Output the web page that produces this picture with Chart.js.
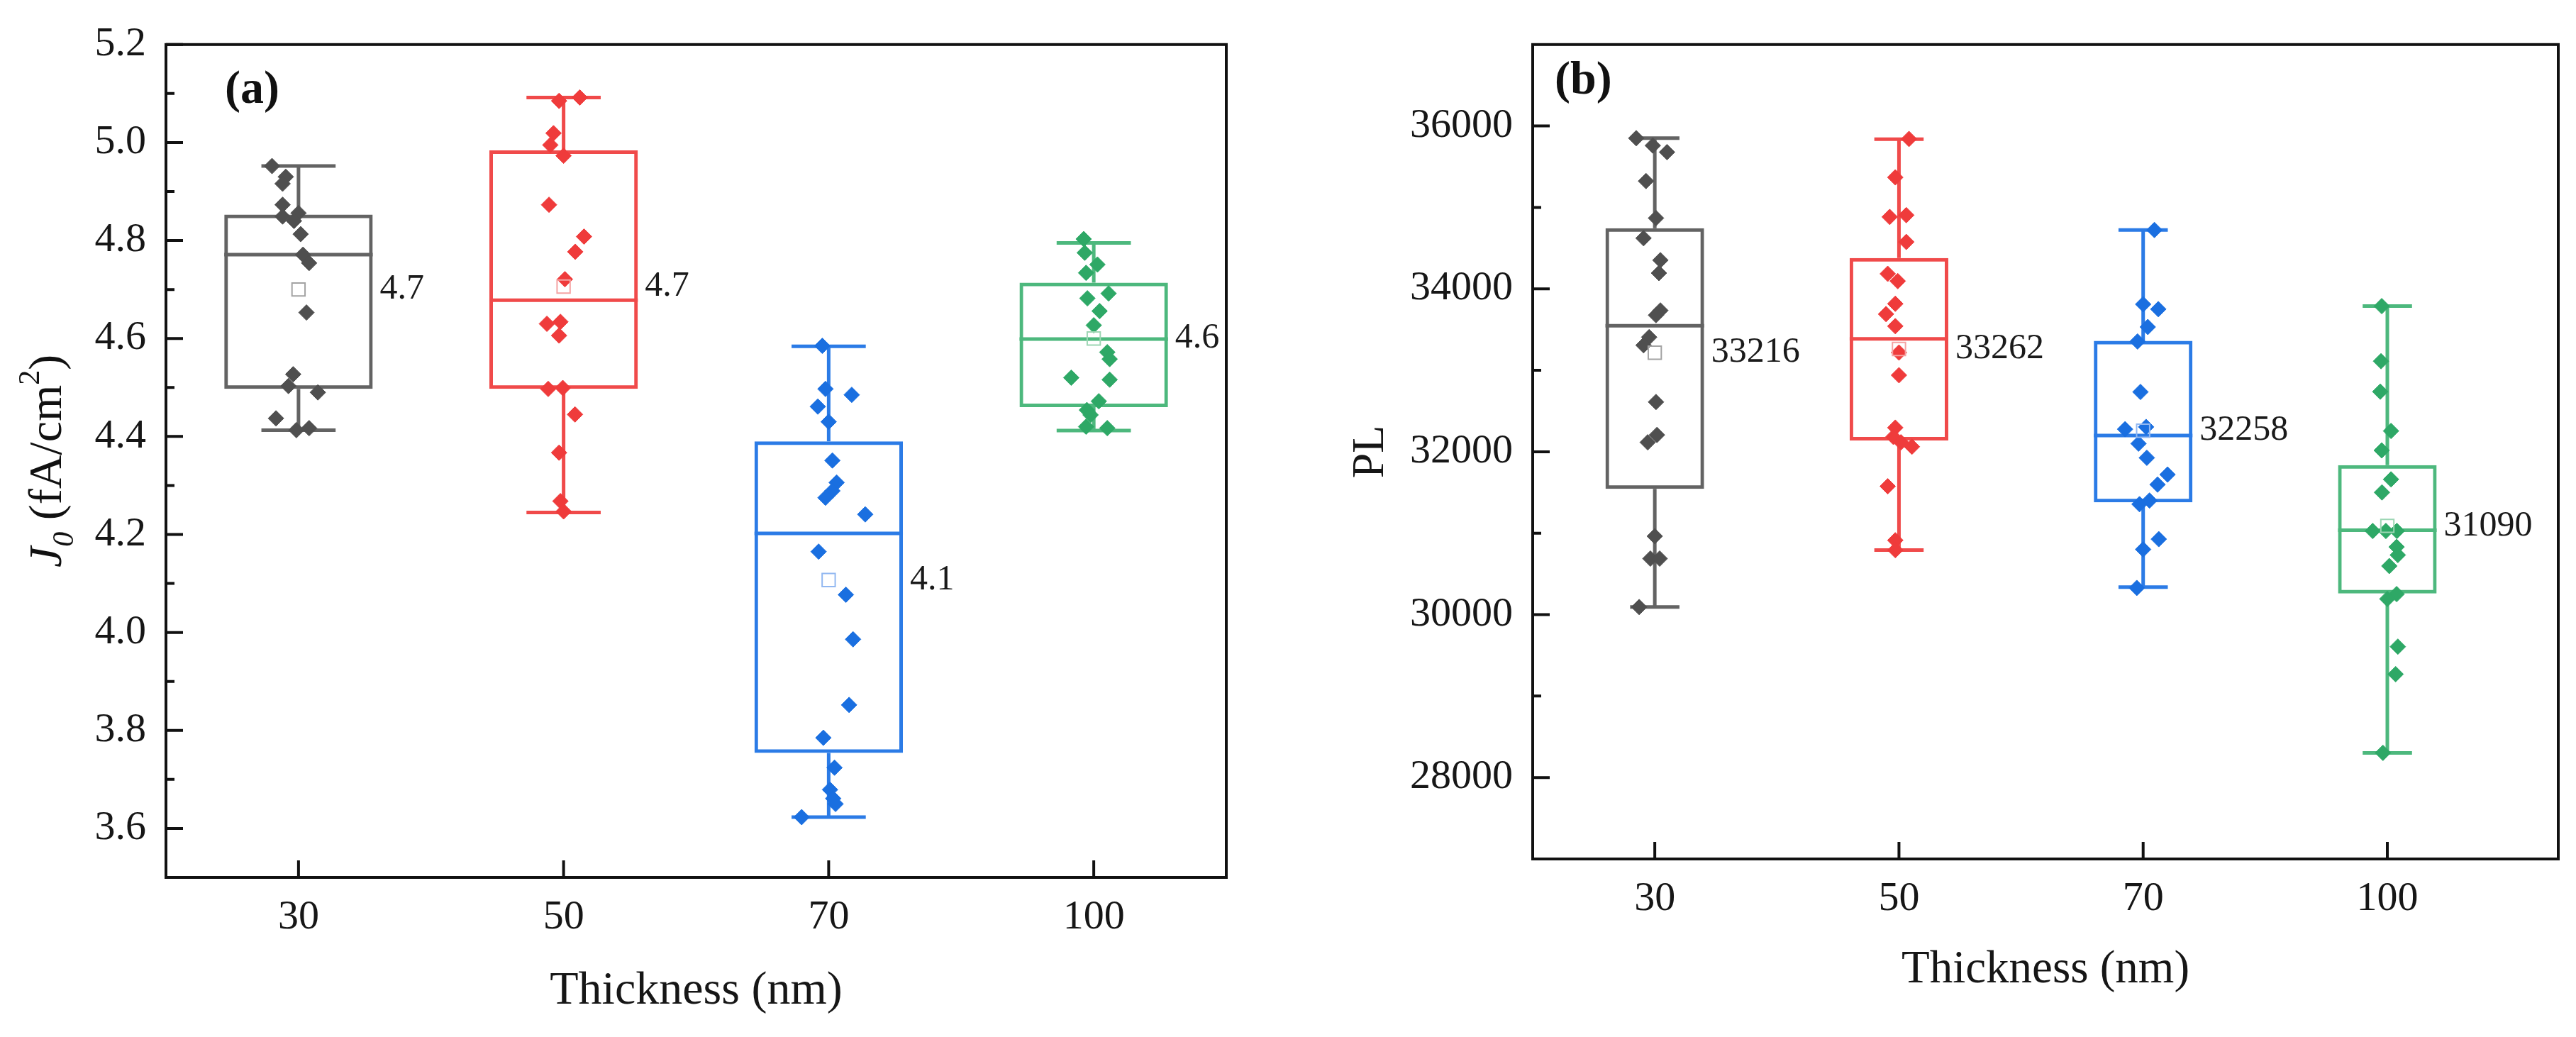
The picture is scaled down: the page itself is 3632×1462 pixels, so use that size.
<!DOCTYPE html>
<html>
<head>
<meta charset="utf-8">
<title>J0 e PL por espessura</title>
<script src="https://cdn.jsdelivr.net/npm/chart.js@4.4.1/dist/chart.umd.min.js"></script>
<style>
	html, body { margin: 0; padding: 0; background: #fff; }
	#painel { position: relative; width: 3632px; height: 1462px; }
	#painel canvas { position: absolute; top: 0; }
	#graficoJ0 { left: 0; }
	#graficoPL { left: 1816px; }
</style>
</head>
<body>
<div id="painel">
	<canvas id="graficoJ0" width="1816" height="1462"></canvas>
	<canvas id="graficoPL" width="1816" height="1462"></canvas>
</div>
<script>
var espessuras = ['30', '50', '70', '100'];

// (a) J0 (fA/cm2) - pontos e deslocamento horizontal
var j0Ticks = [3.6, 3.8, 4.0, 4.2, 4.4, 4.6, 4.8, 5.0, 5.2];

var j0_30    = [4.952, 4.930, 4.916, 4.873, 4.856, 4.849, 4.840, 4.813, 4.771, 4.754, 4.653, 4.527, 4.503, 4.490, 4.437, 4.413, 4.417];
var j0_30_dx = [-0.10, -0.048, -0.06, -0.06, 0.0, -0.06, -0.017, 0.008, 0.017, 0.04, 0.03, -0.02, -0.038, 0.073, -0.085, -0.008, 0.04];

var j0_50    = [5.085, 5.092, 5.019, 4.995, 4.973, 4.873, 4.808, 4.777, 4.721, 4.630, 4.634, 4.606, 4.497, 4.499, 4.445, 4.367, 4.268, 4.247];
var j0_50_dx = [-0.017, 0.061, -0.038, -0.05, 0.0, -0.055, 0.077, 0.044, 0.005, -0.063, -0.012, -0.017, -0.058, -0.003, 0.043, -0.017, -0.012, 0.0];

var j0_70    = [4.585, 4.497, 4.485, 4.461, 4.430, 4.351, 4.306, 4.289, 4.275, 4.241, 4.165, 4.077, 3.986, 3.852, 3.785, 3.724, 3.679, 3.661, 3.650, 3.623];
var j0_70_dx = [-0.024, -0.012, 0.087, -0.041, 0.0, 0.014, 0.03, 0.014, -0.012, 0.138, -0.038, 0.065, 0.092, 0.077, -0.02, 0.022, 0.005, 0.017, 0.026, -0.102];

var j0_100    = [4.803, 4.775, 4.751, 4.734, 4.692, 4.682, 4.656, 4.627, 4.572, 4.558, 4.520, 4.516, 4.472, 4.454, 4.444, 4.420, 4.417];
var j0_100_dx = [-0.038, -0.034, 0.014, -0.029, 0.056, -0.024, 0.022, 0.0, 0.051, 0.06, -0.085, 0.06, 0.019, -0.026, -0.012, -0.029, 0.051];

var j0Min     = [4.413, 4.245, 3.623, 4.412];
var j0Q1      = [4.497, 4.497, 3.754, 4.460];
var j0Mediana = [4.771, 4.678, 4.202, 4.599];
var j0Q3      = [4.853, 4.984, 4.390, 4.714];
var j0Max     = [4.952, 5.092, 4.584, 4.795];
var j0Media   = [4.70, 4.706, 4.107, 4.60];

// (b) PL
var plTicks = [28000, 30000, 32000, 34000, 36000];

var pl_30    = [35850, 35760, 35679, 35324, 34869, 34622, 34352, 34194, 33735, 33677, 33407, 33308, 32611, 32207, 32116, 30963, 30688, 30688, 30093];
var pl_30_dx = [-0.076, -0.008, 0.05, -0.036, 0.005, -0.046, 0.023, 0.017, 0.023, 0.005, -0.023, -0.046, 0.005, 0.009, -0.029, 0.0, -0.018, 0.02, -0.064];

var pl_50    = [35841, 35369, 34883, 34905, 34576, 34185, 34095, 33817, 33690, 33542, 33218, 32940, 32296, 32183, 32116, 32062, 31576, 30913, 30792];
var pl_50_dx = [0.041, -0.015, -0.038, 0.03, 0.03, -0.046, -0.005, -0.015, -0.053, -0.015, 0.0, 0.0, -0.015, -0.023, 0.008, 0.053, -0.046, -0.015, -0.015];

var pl_70    = [34723, 33811, 33751, 33532, 33354, 32734, 32277, 32305, 32100, 31926, 31720, 31597, 31356, 31401, 30927, 30801, 30328];
var pl_70_dx = [0.046, 0.0, 0.062, 0.019, -0.023, -0.011, -0.074, 0.012, -0.019, 0.015, 0.1, 0.059, -0.015, 0.026, 0.064, 0.0, -0.026];

var pl_100    = [33788, 33112, 32738, 32255, 32017, 31661, 31501, 31027, 31027, 31027, 30831, 30732, 30597, 30252, 30193, 29607, 29269, 28303];
var pl_100_dx = [-0.023, -0.026, -0.029, 0.015, -0.023, 0.015, -0.022, -0.06, -0.006, 0.039, 0.038, 0.043, 0.008, 0.038, 0.0, 0.043, 0.034, -0.018];

var plMin     = [30093, 30792, 30338, 28303];
var plQ1      = [31544, 32138, 31378, 30260];
var plMediana = [33547, 33385, 32200, 31036];
var plQ3      = [34744, 34379, 33363, 31835];
var plMax     = [35850, 35837, 34723, 33788];
var plMedia   = [33216, 33262, 32258, 31090];


var FONTE = '"Liberation Serif", "Times New Roman", serif';
Chart.defaults.font.family = FONTE;
Chart.defaults.color = '#161616';

var coresPonto = ['#4f4f4f', '#ef3b3b', '#1a6fe0', '#2ea866'];
var coresCaixa = ['#636363', '#f04a4a', '#2b7be6', '#4db87d'];
var coresMedia = ['#a3a3a3', '#f5a3a3', '#92b8f1', '#9dd6b4'];

var Grafico = Grafico || {};

Grafico.Caixas = (function(){

	function Caixas(config){
		this.ctx = document.getElementById(config.canvas).getContext('2d');
		this.c = config;
	}

	Caixas.prototype.iniciar = function(){
		var c = this.c;

		var datasets = [];
		// media (quadrado vazio) - por cima de tudo
		datasets.push({
			type: 'scatter',
			data: c.media.map(function(v, i){ return {x: i, y: v}; }),
			pointStyle: 'rect',
			radius: 13,
			borderWidth: 2,
			backgroundColor: 'rgba(255,255,255,0)',
			borderColor: coresMedia
		});
		// pontos de cada espessura
		c.pontos.forEach(function(valores, g){
			datasets.push({
				type: 'scatter',
				data: valores.map(function(v, k){ return {x: g + c.dx[g][k], y: v}; }),
				pointStyle: 'rectRot',
				radius: 11,
				borderWidth: 1,
				backgroundColor: coresPonto[g],
				borderColor: coresPonto[g]
			});
		});
		// caixas Q1-Q3
		datasets.push({
			type: 'bar',
			data: c.q1.map(function(v, i){ return {x: i, y: [v, c.q3[i]]}; }),
			backgroundColor: 'rgba(255,255,255,0)',
			borderColor: coresCaixa,
			borderWidth: 5,
			borderSkipped: false,
			barPercentage: c.larguraCaixa,
			categoryPercentage: 1
		});

		new Chart(this.ctx, {
			type: 'bar',
			data: { datasets: datasets },
			options: {
				responsive: false,
				animation: false,
				devicePixelRatio: 1,
				layout: { padding: c.margem },
				plugins: { legend: { display: false }, tooltip: { enabled: false } },
				scales: {
					x: {
						type: 'linear',
						min: -0.5,
						max: c.xMax,
						offset: false,
						grid: { display: false, drawTicks: false },
						border: { display: false },
						afterBuildTicks: function(scale){
							scale.ticks = espessuras.map(function(e, i){ return {value: i}; });
						},
						afterFit: function(scale){ scale.height = c.alturaEixoX; },
						ticks: {
							font: { size: 58 },
							padding: 22,
							maxRotation: 0,
							callback: function(v){ return espessuras[v]; }
						},
						title: {
							display: true,
							text: 'Thickness (nm)',
							font: { size: c.fonteTitulo },
							padding: { top: 0, bottom: c.margemTituloX }
						}
					},
					y: {
						type: 'linear',
						min: c.yMin,
						max: c.yMax,
						grid: { display: false, drawTicks: false },
						border: { display: false },
						afterBuildTicks: function(scale){
							scale.ticks = c.ticks.map(function(v){ return {value: v}; });
						},
						afterFit: function(scale){ scale.width = c.larguraEixoY; },
						ticks: {
							font: { size: 58 },
							padding: 28,
							callback: c.formatoTick
						},
						title: c.tituloY
					}
				}
			},
			plugins: [pluginCaixas(c)]
		});
	};

	function pluginCaixas(c){
		return {
			id: 'caixas',
			beforeDatasetsDraw: function(chart){
				var ctx = chart.ctx, x = chart.scales.x, y = chart.scales.y;
				var caixas = chart.getDatasetMeta(chart.data.datasets.length - 1).data;
				ctx.save();
				ctx.lineWidth = 5;
				espessuras.forEach(function(e, i){
					var cx = x.getPixelForValue(i);
					var meia = caixas[i].width / 2;
					var yMax = y.getPixelForValue(c.max[i]);
					var yMin = y.getPixelForValue(c.min[i]);
					ctx.strokeStyle = coresCaixa[i];
					ctx.beginPath();
					ctx.moveTo(cx, y.getPixelForValue(c.q3[i])); ctx.lineTo(cx, yMax);
					ctx.moveTo(cx - meia / 2, yMax); ctx.lineTo(cx + meia / 2, yMax);
					ctx.moveTo(cx, y.getPixelForValue(c.q1[i])); ctx.lineTo(cx, yMin);
					ctx.moveTo(cx - meia / 2, yMin); ctx.lineTo(cx + meia / 2, yMin);
					var yMed = y.getPixelForValue(c.mediana[i]);
					ctx.moveTo(cx - meia, yMed); ctx.lineTo(cx + meia, yMed);
					ctx.stroke();
				});
				ctx.restore();
			},
			afterDatasetsDraw: function(chart){
				var ctx = chart.ctx, x = chart.scales.x, y = chart.scales.y;
				var caixas = chart.getDatasetMeta(chart.data.datasets.length - 1).data;
				ctx.save();
				ctx.font = '50px ' + FONTE;
				ctx.fillStyle = '#1a1a1a';
				ctx.textAlign = 'left';
				ctx.textBaseline = 'middle';
				c.media.forEach(function(v, i){
					ctx.fillText(c.formatoMedia(v), x.getPixelForValue(i) + caixas[i].width / 2 + 10, y.getPixelForValue(v));
				});
				ctx.restore();
			},
			afterDraw: function(chart){
				var ctx = chart.ctx, a = chart.chartArea, x = chart.scales.x, y = chart.scales.y;
				ctx.save();
				ctx.strokeStyle = '#111';
				ctx.lineWidth = 4;
				ctx.strokeRect(a.left, a.top, a.right - a.left, a.bottom - a.top);

				ctx.beginPath();
				y.ticks.forEach(function(t, k){
					var py = y.getPixelForValue(t.value);
					ctx.moveTo(a.left, py); ctx.lineTo(a.left + 24, py);
				});
				// ticks menores no meio
				var passo = c.ticks[1] - c.ticks[0];
				var menores = [c.ticks[0] - passo / 2];
				c.ticks.forEach(function(v){ menores.push(v + passo / 2); });
				menores.forEach(function(v){
					if (v <= c.yMin || v >= c.yMax) return;
					var py = y.getPixelForValue(v);
					ctx.moveTo(a.left, py); ctx.lineTo(a.left + 12, py);
				});
				x.ticks.forEach(function(t){
					var px = x.getPixelForValue(t.value);
					ctx.moveTo(px, a.bottom); ctx.lineTo(px, a.bottom - 24);
				});
				ctx.stroke();

				ctx.fillStyle = '#111';
				ctx.font = 'bold 66px ' + FONTE;
				ctx.textAlign = 'left';
				ctx.textBaseline = 'alphabetic';
				ctx.fillText(c.letra, a.left + c.posLetra[0], a.top + c.posLetra[1]);

				if (c.desenharTituloY) c.desenharTituloY(ctx, a);
				ctx.restore();
			}
		};
	}

	return Caixas;
}());


function tituloJ0(ctx, a){
	var partes = [
		{ t: 'J', f: 'italic 66px ' + FONTE, dy: 0 },
		{ t: '0', f: 'italic 42px ' + FONTE, dy: 17 },
		{ t: ' (fA/cm', f: '66px ' + FONTE, dy: 0 },
		{ t: '2', f: '42px ' + FONTE, dy: -31 },
		{ t: ')', f: '66px ' + FONTE, dy: 0 }
	];
	var total = 0;
	partes.forEach(function(p){ ctx.font = p.f; p.w = ctx.measureText(p.t).width; total += p.w; });
	ctx.save();
	ctx.translate(86, (a.top + a.bottom) / 2);
	ctx.rotate(-Math.PI / 2);
	ctx.fillStyle = '#111';
	ctx.textAlign = 'left';
	ctx.textBaseline = 'alphabetic';
	var px = -total / 2;
	partes.forEach(function(p){
		ctx.font = p.f;
		ctx.fillText(p.t, px, p.dy);
		px += p.w;
	});
	ctx.restore();
}


window.addEventListener('load', function(){

	var graficoJ0 = new Grafico.Caixas({
		canvas: 'graficoJ0',
		pontos: [j0_30, j0_50, j0_70, j0_100],
		dx: [j0_30_dx, j0_50_dx, j0_70_dx, j0_100_dx],
		min: j0Min, q1: j0Q1, mediana: j0Mediana, q3: j0Q3, max: j0Max, media: j0Media,
		ticks: j0Ticks,
		yMin: 3.5, yMax: 5.2, xMax: 3.5,
		larguraCaixa: 0.56,
		margem: { left: 0, right: 87, top: 54, bottom: 0 },
		larguraEixoY: 234,
		alturaEixoX: 225,
		fonteTitulo: 66,
		margemTituloX: 25,
		formatoTick: function(v){ return v.toFixed(1); },
		formatoMedia: function(v){ return v.toFixed(1); },
		tituloY: { display: false },
		desenharTituloY: tituloJ0,
		letra: '(a)',
		posLetra: [83, 82]
	});
	graficoJ0.iniciar();

	var graficoPL = new Grafico.Caixas({
		canvas: 'graficoPL',
		pontos: [pl_30, pl_50, pl_70, pl_100],
		dx: [pl_30_dx, pl_50_dx, pl_70_dx, pl_100_dx],
		min: plMin, q1: plQ1, mediana: plMediana, q3: plQ3, max: plMax, media: plMedia,
		ticks: plTicks,
		yMin: 27000, yMax: 37000, xMax: 3.7,
		larguraCaixa: 0.404,
		margem: { left: 0, right: 25, top: 46, bottom: 0 },
		larguraEixoY: 345,
		alturaEixoX: 251,
		fonteTitulo: 65,
		margemTituloX: 55,
		formatoTick: function(v){ return String(v); },
		formatoMedia: function(v){ return String(v); },
		tituloY: { display: true, text: 'PL', font: { size: 64 }, padding: { top: 79, bottom: 0 } },
		desenharTituloY: null,
		letra: '(b)',
		posLetra: [31, 69]
	});
	graficoPL.iniciar();

});
</script>
</body>
</html>
